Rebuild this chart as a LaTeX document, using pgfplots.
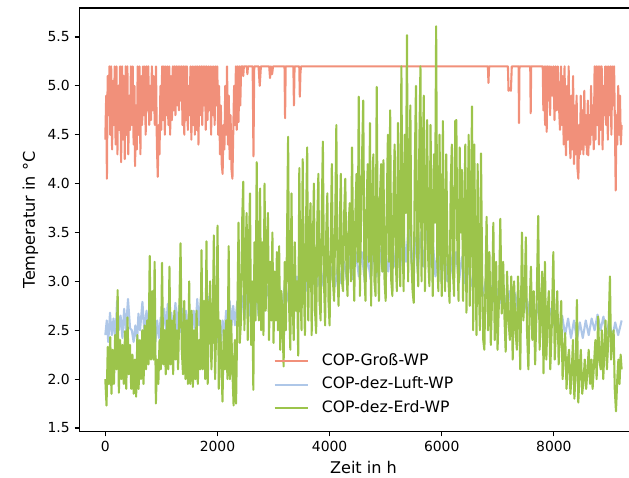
\documentclass[border=0pt]{standalone}
\usepackage{fontspec}
\setmainfont{DejaVu Sans}
\usepackage{pgfplots}
\pgfplotsset{compat=1.18}
\definecolor{cred}{HTML}{F1907A}
\definecolor{cblue}{HTML}{AEC7E8}
\definecolor{cgreen}{HTML}{9CC44B}
\begin{document}
\begin{tikzpicture}
\useasboundingbox (0,0) rectangle (452.88pt,344.16pt);
\clip (0,0) rectangle (452.88pt,344.16pt);
\begin{axis}[
  at={(57.24pt,33.48pt)}, anchor=south west,
  scale only axis, width=408.96pt, height=304.92pt,
  xmin=-460, xmax=9669, ymin=1.464, ymax=5.797,
  xtick={0,2000,4000,6000,8000}, ytick={1.5,2.0,2.5,3.0,3.5,4.0,4.5,5.0,5.5},
  tick align=outside, major tick length=3.5pt,
  xtick pos=bottom, ytick pos=left,
  every tick/.style={black, line width=0.8pt},
  axis line style={line width=0.8pt},
  /pgf/number format/assume math mode=true,
  x tick label style={/pgf/number format/1000 sep={}},
  y tick label style={/pgf/number format/.cd, fixed, fixed zerofill, precision=1},
  xlabel={Zeit in h}, ylabel={Temperatur in °C},
  xlabel style={font=\fontsize{11.6}{14}\selectfont},
  ylabel style={font=\fontsize{11.6}{14}\selectfont},
  legend cell align=left,
  legend style={at={(0.5,0)}, anchor=south, yshift=11pt, draw=none, fill=none, inner sep=0pt,
    font=\fontsize{11.3}{13.6}\selectfont,
    row sep=5.8pt, nodes={inner sep=0pt, text height=8.5pt, text depth=2.6pt},
    /tikz/every odd column/.append style={column sep=9.4pt}},
  legend image code/.code={\draw[#1] (0pt,0pt) -- (23.8pt,0pt);},
  every axis plot/.append style={line width=1.5pt, line join=round},
]
\addplot[cred] coordinates {
(0,4.45)(16,4.9)(29,4.05)(42,5.1)(58,4.7)(74,5.2)(89,4.5)(105,5.2)(121,4.35)(137,5.05)
(152,4.6)(168,5.2)(184,4.4)(200,5.2)(216,4.3)(231,5.0)(247,4.55)(263,5.2)(282,4.22)(300,5.2)
(315,4.45)(331,5.1)(347,4.25)(363,5.2)(378,4.5)(394,5.2)(410,4.3)(426,4.9)(442,4.55)(457,5.2)
(473,4.6)(489,5.2)(505,4.4)(520,5.0)(531,4.18)(547,4.8)(562,4.35)(578,5.2)(594,4.5)(610,5.2)
(626,4.3)(641,5.1)(657,4.6)(673,5.2)(689,4.7)(704,5.2)(720,4.5)(736,5.2)(752,4.75)(767,5.2)
(783,4.6)(799,5.0)(815,4.65)(831,5.2)(846,4.75)(862,5.1)(883,4.6)(904,5.2)(920,4.4)(936,4.07)
(951,4.6)(967,4.3)(983,5.0)(999,4.55)(1014,5.2)(1030,4.65)(1046,5.2)(1062,4.5)(1078,5.2)(1093,4.7)
(1109,5.2)(1125,4.6)(1141,5.2)(1156,4.5)(1172,5.1)(1188,4.65)(1204,5.2)(1220,4.75)(1235,5.2)(1251,4.7)
(1267,5.2)(1283,4.8)(1298,5.2)(1314,4.75)(1330,5.2)(1346,4.85)(1361,5.2)(1377,4.6)(1393,5.2)(1409,4.5)
(1424,5.2)(1440,4.65)(1456,5.2)(1472,4.55)(1488,5.0)(1503,4.7)(1519,5.2)(1535,4.45)(1551,5.2)(1566,4.6)
(1582,5.2)(1598,4.5)(1614,5.2)(1630,4.55)(1645,5.2)(1661,4.4)(1682,5.2)(1698,4.7)(1714,5.2)(1729,4.6)
(1745,5.2)(1761,4.8)(1777,5.2)(1792,4.55)(1808,5.2)(1824,4.65)(1840,5.2)(1856,4.75)(1871,5.2)(1887,4.5)
(1903,5.2)(1919,4.7)(1934,5.2)(1950,4.6)(1966,5.2)(1982,4.8)(1997,5.2)(2013,4.5)(2029,5.0)(2045,4.3)
(2061,4.8)(2076,4.2)(2092,4.1)(2108,4.6)(2124,4.35)(2139,5.0)(2155,4.5)(2171,5.2)(2187,4.4)(2202,4.9)
(2218,4.25)(2234,4.7)(2250,4.15)(2267,4.05)(2281,4.5)(2297,5.0)(2313,4.6)(2329,5.2)(2344,4.55)(2360,5.2)
(2376,4.63)(2392,5.2)(2407,4.8)(2423,5.2)(2450,5.2)(2460,5.1)(2471,5.2)(2523,5.2)(2534,5.12)(2544,5.2)
(2628,5.2)(2642,4.28)(2656,5.2)(2733,5.2)(2754,5.0)(2775,5.2)(2923,5.2)(2938,5.08)(2954,5.2)(2975,5.12)
(2991,5.2)(3196,5.2)(3206,4.67)(3217,5.2)(3354,5.2)(3364,4.8)(3375,5.2)(3459,5.2)(3469,4.89)(3480,5.13)
(3490,5.2)(6823,5.2)(6833,5.03)(6844,5.2)(7180,5.2)(7191,4.95)(7212,4.97)(7233,4.95)(7249,5.2)(7370,5.2)
(7378,4.62)(7386,5.2)(7578,5.2)(7586,4.72)(7595,5.2)(7801,5.2)(7812,4.75)(7827,5.2)(7843,4.6)(7858,5.2)
(7871,4.53)(7885,5.2)(7901,4.85)(7916,5.2)(7932,4.7)(7948,5.2)(7969,4.9)(7990,5.2)(8011,4.65)(8032,5.2)
(8050,4.75)(8069,5.2)(8090,4.8)(8109,4.55)(8127,5.2)(8142,4.6)(8158,5.1)(8174,4.4)(8190,5.2)(8205,4.5)
(8216,4.29)(8232,5.0)(8247,4.45)(8263,5.2)(8279,4.5)(8295,4.26)(8311,4.9)(8326,4.35)(8342,5.1)(8358,4.2)
(8374,4.8)(8389,4.3)(8405,4.9)(8421,4.15)(8436,4.05)(8453,4.6)(8465,4.3)(8479,4.9)(8495,4.35)(8510,4.75)
(8526,4.3)(8542,4.95)(8558,4.4)(8573,4.7)(8589,4.3)(8605,4.85)(8613,4.29)(8631,4.7)(8647,4.4)(8663,5.0)
(8678,4.5)(8694,4.8)(8710,4.35)(8726,5.2)(8742,4.45)(8757,5.2)(8773,4.6)(8789,5.2)(8805,4.4)(8821,5.2)
(8836,4.55)(8852,5.2)(8868,4.35)(8884,5.0)(8899,4.7)(8915,5.2)(8931,4.6)(8947,5.2)(8962,4.45)(8978,5.2)
(8994,4.7)(9010,5.2)(9025,4.5)(9041,5.2)(9057,4.8)(9073,5.2)(9088,4.6)(9102,3.93)(9115,4.7)(9131,4.4)
(9146,5.0)(9162,4.5)(9178,4.9)(9194,4.4)(9208,4.6)
};
\addlegendentry{COP-Groß-WP}
\addplot[cblue] coordinates {
(0,2.45)(26,2.6)(53,2.38)(84,2.68)(116,2.45)(147,2.62)(179,2.4)(210,2.8)(242,2.5)(273,2.65)
(305,2.42)(336,2.72)(368,2.5)(405,2.82)(442,2.52)(473,2.5)(505,2.38)(536,2.55)(568,2.4)(591,2.67)
(620,2.5)(662,2.79)(694,2.5)(736,2.7)(767,2.45)(799,2.68)(831,2.42)(862,2.65)(894,2.38)(925,2.6)
(957,2.42)(988,2.63)(1020,2.48)(1051,2.72)(1083,2.5)(1114,2.77)(1146,2.5)(1177,2.68)(1209,2.45)(1251,2.78)
(1283,2.5)(1314,2.75)(1346,2.48)(1377,2.72)(1409,2.45)(1440,2.7)(1472,2.48)(1514,2.65)(1545,2.45)(1577,2.7)
(1608,2.5)(1640,2.82)(1672,2.55)(1703,2.82)(1735,2.5)(1777,2.75)(1808,2.5)(1840,2.84)(1871,2.52)(1903,2.72)
(1934,2.45)(1966,2.62)(1997,2.38)(2029,2.55)(2061,2.36)(2092,2.6)(2124,2.45)(2155,2.7)(2187,2.5)(2218,2.8)
(2250,2.55)(2281,2.75)(2313,2.55)(2355,2.8)(2397,2.6)(2439,2.85)(2481,2.62)(2523,2.88)(2565,2.65)(2607,2.9)
(2649,2.68)(2691,2.85)(2733,2.65)(2786,2.92)(2839,2.7)(2891,2.95)(2944,2.72)(2996,2.9)(3049,2.7)(3101,2.95)
(3154,2.75)(3206,2.98)(3259,2.8)(3312,3.0)(3364,2.85)(3417,3.05)(3469,2.85)(3522,3.1)(3574,2.9)(3627,3.1)
(3680,2.92)(3732,3.12)(3785,2.95)(3837,3.15)(3890,2.95)(3942,3.1)(3995,2.97)(4048,3.15)(4100,2.95)(4153,3.2)
(4205,2.98)(4258,3.2)(4310,3.0)(4363,3.25)(4415,3.02)(4468,3.3)(4521,3.05)(4573,3.3)(4626,3.0)(4678,3.25)
(4731,3.02)(4783,3.3)(4836,3.05)(4889,3.35)(4941,3.1)(4994,3.3)(5046,3.1)(5099,3.4)(5151,3.15)(5204,3.45)
(5257,3.1)(5309,3.55)(5362,3.2)(5414,3.6)(5467,3.15)(5520,3.45)(5572,3.1)(5625,3.5)(5677,3.15)(5730,3.6)
(5782,3.15)(5835,3.45)(5887,3.05)(5940,3.4)(5993,3.0)(6045,3.35)(6098,3.0)(6150,3.3)(6203,3.02)(6255,3.3)
(6308,3.0)(6360,3.25)(6413,2.98)(6466,3.2)(6518,2.95)(6571,3.1)(6623,2.9)(6676,3.05)(6729,2.85)(6781,3.0)
(6834,2.82)(6886,2.95)(6939,2.78)(6991,2.92)(7044,2.78)(7096,2.9)(7149,2.75)(7201,2.9)(7254,2.72)(7307,2.88)
(7359,2.7)(7412,2.85)(7464,2.68)(7517,2.82)(7570,2.65)(7622,2.8)(7675,2.62)(7727,2.78)(7780,2.6)(7832,2.75)
(7885,2.58)(7937,2.72)(7990,2.55)(8042,2.7)(8095,2.5)(8147,2.65)(8200,2.45)(8253,2.62)(8305,2.42)(8358,2.6)
(8410,2.4)(8463,2.58)(8515,2.42)(8568,2.6)(8621,2.45)(8673,2.62)(8726,2.5)(8778,2.66)(8831,2.5)(8883,2.64)
(8936,2.45)(8988,2.6)(9041,2.42)(9093,2.58)(9146,2.45)(9208,2.6)
};
\addlegendentry{COP-dez-Luft-WP}
\addplot[cgreen] coordinates {
(0,2.0)(22,1.73)(44,2.33)(66,1.95)(88,2.43)(110,1.85)(132,2.3)(154,1.95)(176,2.45)(198,2.1)
(220,2.91)(242,1.86)(264,2.4)(286,2.0)(308,2.35)(330,1.95)(352,2.49)(374,1.9)(396,2.63)(418,2.05)
(440,2.35)(462,1.9)(484,2.25)(506,1.85)(528,2.2)(550,1.82)(572,2.45)(594,1.9)(616,2.4)(638,2.0)
(660,2.5)(682,1.95)(704,2.55)(726,2.1)(748,2.6)(770,2.15)(792,3.26)(814,2.2)(836,2.9)(858,2.2)
(880,3.2)(902,1.75)(924,2.2)(946,1.95)(968,2.4)(990,2.1)(1012,3.19)(1034,2.15)(1056,2.5)(1078,2.05)
(1100,2.6)(1122,2.1)(1144,3.15)(1166,2.15)(1188,2.6)(1210,2.05)(1232,2.7)(1254,2.2)(1276,2.5)(1298,2.1)
(1320,2.7)(1342,3.39)(1364,2.3)(1386,2.05)(1408,2.8)(1430,2.0)(1452,2.6)(1474,1.95)(1496,3.0)(1518,1.95)
(1540,2.7)(1562,1.92)(1584,2.5)(1606,2.0)(1628,2.7)(1650,1.95)(1672,2.4)(1694,2.1)(1716,3.32)(1738,2.1)
(1760,2.8)(1782,2.0)(1804,3.41)(1826,1.95)(1848,2.6)(1870,3.0)(1892,2.1)(1914,2.5)(1936,3.47)(1958,2.0)
(1980,2.6)(2002,3.57)(2024,1.9)(2046,2.6)(2068,2.2)(2090,1.77)(2112,2.5)(2134,2.1)(2156,2.6)(2178,2.0)
(2200,3.36)(2222,2.0)(2244,2.6)(2266,2.1)(2288,1.73)(2310,2.4)(2332,1.75)(2354,2.6)(2376,3.6)(2398,2.37)
(2420,2.6)(2440,3.6)(2460,4.02)(2480,2.5)(2500,3.2)(2520,3.7)(2540,2.4)(2560,3.3)(2580,3.9)(2600,2.35)
(2620,3.0)(2640,1.89)(2660,3.4)(2680,2.6)(2700,4.22)(2720,2.9)(2740,2.6)(2760,3.95)(2780,2.5)(2800,3.4)
(2820,2.45)(2840,4.0)(2860,2.7)(2880,3.3)(2900,3.7)(2920,2.4)(2940,3.2)(2960,2.6)(2980,3.5)(3000,2.37)
(3020,3.1)(3040,2.6)(3060,3.3)(3080,2.5)(3100,3.36)(3120,2.3)(3140,2.9)(3160,2.6)(3180,2.13)(3200,3.2)
(3220,2.5)(3240,3.4)(3260,4.48)(3280,2.7)(3300,2.3)(3320,3.9)(3340,2.8)(3360,2.4)(3380,3.4)(3400,2.7)
(3420,3.0)(3440,2.24)(3460,4.16)(3480,2.9)(3500,2.5)(3520,4.25)(3540,3.0)(3560,2.45)(3580,3.6)(3600,4.37)
(3620,2.6)(3640,3.5)(3660,3.8)(3680,2.45)(3700,3.3)(3720,4.0)(3740,2.7)(3760,2.47)(3780,3.6)(3800,4.1)
(3820,2.8)(3840,2.6)(3860,3.7)(3880,4.43)(3900,3.0)(3920,2.55)(3940,3.5)(3960,3.9)(3980,2.8)(4000,2.55)
(4020,3.4)(4040,4.2)(4060,3.0)(4080,2.8)(4100,3.6)(4120,4.6)(4140,3.1)(4160,2.75)(4180,3.5)(4200,4.1)
(4220,3.0)(4240,2.9)(4260,3.7)(4280,4.05)(4300,3.1)(4320,2.85)(4340,3.6)(4360,3.8)(4380,3.0)(4400,4.37)
(4420,3.3)(4440,2.8)(4460,3.7)(4480,4.1)(4500,3.2)(4520,4.89)(4540,2.85)(4560,3.6)(4580,4.3)(4600,4.85)
(4620,3.1)(4640,2.8)(4660,3.8)(4680,4.2)(4700,3.2)(4720,4.62)(4740,2.75)(4760,3.7)(4780,4.3)(4800,3.0)
(4820,2.85)(4840,4.99)(4860,3.3)(4880,2.8)(4900,3.9)(4920,4.2)(4940,3.1)(4960,4.24)(4980,3.0)(5000,2.8)
(5020,3.8)(5040,4.5)(5060,3.2)(5080,4.75)(5100,3.0)(5120,2.85)(5140,3.9)(5160,4.4)(5180,3.2)(5200,2.9)
(5220,4.62)(5240,3.4)(5260,2.95)(5280,5.2)(5300,3.5)(5320,2.9)(5340,4.5)(5360,3.7)(5380,5.52)(5400,3.0)
(5420,4.0)(5440,4.8)(5460,3.2)(5480,2.9)(5500,2.78)(5520,4.2)(5540,5.0)(5560,3.3)(5580,2.95)(5600,4.4)
(5620,5.2)(5640,3.0)(5660,4.2)(5680,4.9)(5700,2.9)(5720,3.8)(5740,4.65)(5760,3.2)(5780,2.95)(5800,4.6)
(5820,3.5)(5840,2.85)(5860,4.3)(5880,3.6)(5900,5.61)(5920,3.2)(5940,2.9)(5960,4.5)(5980,3.5)(6000,2.85)
(6020,4.64)(6040,3.3)(6060,2.9)(6080,4.3)(6100,3.4)(6120,3.0)(6140,2.78)(6160,4.0)(6180,4.4)(6200,3.1)
(6220,2.85)(6240,4.64)(6260,4.65)(6280,3.2)(6300,2.8)(6320,4.37)(6340,3.5)(6360,4.14)(6380,2.8)(6400,3.6)
(6420,4.4)(6440,2.68)(6460,3.5)(6480,4.5)(6500,2.75)(6520,3.8)(6540,4.79)(6560,2.5)(6580,4.4)(6600,3.2)
(6620,2.45)(6640,4.2)(6660,3.0)(6680,2.5)(6700,4.31)(6720,3.1)(6740,2.4)(6760,2.3)(6780,3.0)(6800,3.66)
(6825,2.5)(6850,3.3)(6875,2.35)(6900,2.9)(6920,3.6)(6945,2.4)(6970,3.2)(6995,2.3)(7020,2.8)(7044,3.64)
(7070,2.67)(7095,3.2)(7120,2.6)(7140,2.28)(7165,3.1)(7190,2.6)(7215,2.4)(7240,3.05)(7265,2.2)(7290,3.0)
(7315,2.5)(7340,2.3)(7360,3.05)(7385,2.6)(7400,2.1)(7430,3.5)(7455,2.6)(7480,2.9)(7500,3.45)(7520,2.5)
(7545,2.1)(7570,2.8)(7590,3.15)(7615,2.4)(7640,2.9)(7665,2.15)(7690,2.7)(7720,3.67)(7745,2.3)(7770,2.7)
(7790,3.1)(7815,2.06)(7840,3.2)(7865,2.2)(7890,2.7)(7910,2.9)(7935,2.1)(7960,2.5)(7990,3.3)(8015,2.2)
(8040,2.6)(8060,2.9)(8085,2.15)(8110,2.5)(8130,2.8)(8155,2.0)(8180,2.3)(8200,2.47)(8225,1.9)(8250,2.2)
(8270,2.3)(8295,1.85)(8320,2.1)(8340,2.4)(8365,1.8)(8390,2.1)(8410,2.81)(8435,1.76)(8460,2.1)(8480,2.3)
(8505,1.85)(8530,2.0)(8550,2.2)(8575,1.9)(8600,2.1)(8620,2.3)(8645,1.95)(8670,2.2)(8690,1.9)(8715,2.15)
(8740,2.4)(8762,2.0)(8789,2.64)(8810,2.2)(8835,2.1)(8855,2.5)(8880,2.0)(8900,2.3)(8920,2.6)(8945,2.1)
(8970,2.4)(8999,3.05)(9020,2.2)(9045,2.4)(9065,2.5)(9085,1.9)(9107,1.67)(9130,2.0)(9150,2.2)(9170,1.95)
(9190,2.25)(9208,2.1)
};
\addlegendentry{COP-dez-Erd-WP}
\end{axis}
\end{tikzpicture}
\end{document}
